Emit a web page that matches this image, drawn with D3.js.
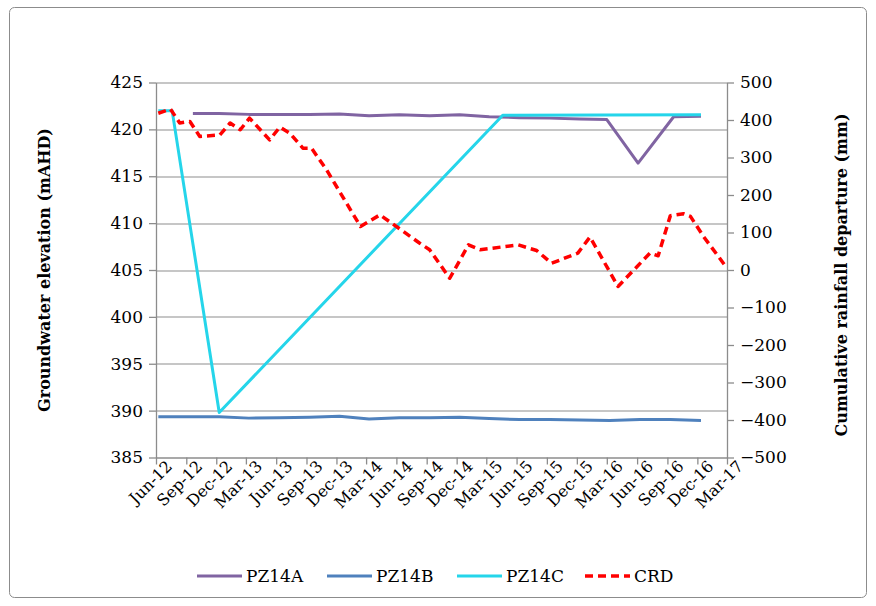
<!DOCTYPE html>
<html>
<head>
<meta charset="utf-8">
<script src="https://cdn.jsdelivr.net/npm/d3@7"></script>
<style>
  body { margin: 0; background: #fff; }
  svg { display: block; }
</style>
</head>
<body>
<div id="chart"></div>
<script>
// series: [date, value]
const pz14a = [
  ["2012-09-21", 421.7], ["2012-12-10", 421.7], ["2013-03-10", 421.6], ["2013-06-10", 421.6],
  ["2013-09-10", 421.6], ["2013-12-10", 421.65], ["2014-03-10", 421.45], ["2014-06-10", 421.55],
  ["2014-09-10", 421.45], ["2014-12-10", 421.55], ["2015-03-10", 421.35], ["2015-06-10", 421.25],
  ["2015-09-10", 421.2], ["2015-12-10", 421.1], ["2016-03-01", 421.05], ["2016-06-04", 416.4],
  ["2016-09-20", 421.35], ["2016-12-12", 421.4]
]
const pz14b = [
  ["2012-06-08", 389.35], ["2012-09-10", 389.35], ["2012-12-10", 389.35], ["2013-03-10", 389.2],
  ["2013-06-10", 389.25], ["2013-09-10", 389.3], ["2013-12-10", 389.4], ["2014-03-10", 389.1],
  ["2014-06-10", 389.25], ["2014-09-10", 389.25], ["2014-12-10", 389.3], ["2015-03-10", 389.15],
  ["2015-06-10", 389.05], ["2015-09-10", 389.05], ["2015-12-10", 389.0], ["2016-03-10", 388.95],
  ["2016-06-10", 389.05], ["2016-09-10", 389.05], ["2016-12-12", 388.95]
]
const pz14c = [
  ["2012-06-08", 422.0], ["2012-07-20", 422.0], ["2012-12-10", 389.8],
  ["2015-04-20", 421.5], ["2016-12-12", 421.55]
]
const crd = [
  ["2012-06-08", 418], ["2012-07-15", 429], ["2012-08-12", 392], ["2012-09-12", 396],
  ["2012-10-12", 356], ["2012-12-12", 360], ["2013-01-12", 392], ["2013-02-12", 374],
  ["2013-03-12", 405], ["2013-05-12", 347], ["2013-06-12", 381], ["2013-07-12", 365],
  ["2013-08-21", 325], ["2013-09-16", 325], ["2013-11-01", 267], ["2014-02-12", 116],
  ["2014-04-12", 147], ["2014-06-01", 116], ["2014-08-10", 72], ["2014-09-10", 54],
  ["2014-11-10", -22], ["2015-01-06", 67], ["2015-02-10", 54], ["2015-06-06", 67],
  ["2015-08-01", 52], ["2015-09-15", 18], ["2015-12-04", 45], ["2016-01-10", 88],
  ["2016-04-04", -44], ["2016-07-10", 45], ["2016-08-04", 38], ["2016-09-10", 145],
  ["2016-10-20", 150], ["2016-11-10", 143], ["2016-12-20", 89], ["2017-03-01", 5]
]

const leftTicks = [385, 390, 395, 400, 405, 410, 415, 420, 425]
const rightTicks = [-500, -400, -300, -200, -100, 0, 100, 200, 300, 400, 500]
const seriesNames = ["PZ14A", "PZ14B", "PZ14C", "CRD"]

const W = 876, H = 606
const margin = { top: 82.5, right: 149, bottom: 148.5, left: 156 }
const width = W - margin.left - margin.right
const height = H - margin.top - margin.bottom

const parse = d3.timeParse("%Y-%m-%d")
const start = parse("2012-06-01"), end = parse("2017-03-01")

const svg = d3.select("#chart").append("svg")
  .attr("width", W).attr("height", H)

// chart border
svg.append("rect")
  .attr("x", 9.5).attr("y", 7.5)
  .attr("width", 857).attr("height", 590)
  .attr("rx", 5)
  .attr("fill", "#fff").attr("stroke", "#8c8c8c").attr("stroke-width", 1)

const g = svg.append("g").attr("transform", "translate(" + margin.left + "," + margin.top + ")")

const x = d3.scaleTime().domain([start, end]).range([0, width])
const y = d3.scaleLinear().domain([385, 425]).range([height, 0])
const y2 = d3.scaleLinear().domain([-500, 500]).range([height, 0])

const font = "'DejaVu Serif', serif"

// GRIDLINES
g.append("g").selectAll("line").data(leftTicks.slice(1)).enter().append("line")
  .attr("x1", 0).attr("x2", width)
  .attr("y1", d => Math.round(y(d)) + 0.5).attr("y2", d => Math.round(y(d)) + 0.5)
  .attr("stroke", "#b3b3b3").attr("stroke-width", 1.3)

// AXES
const xTicks = d3.timeMonth.range(start, d3.timeDay.offset(end, 1), 3)
const xAxis = g.append("g")
  .attr("transform", "translate(0," + height + ")")
  .call(d3.axisBottom(x).tickValues(xTicks).tickFormat(d3.timeFormat("%b-%y")).tickSize(7).tickSizeOuter(0))
xAxis.selectAll("text")
  .attr("font-family", font).attr("font-size", 16).attr("fill", "#000")
  .style("text-anchor", "end")
  .attr("dx", "0.3em").attr("dy", "0.55em")
  .attr("transform", "rotate(-45)")

const yAxis = g.append("g")
  .call(d3.axisLeft(y).tickValues(leftTicks).tickSize(7).tickSizeOuter(0).tickPadding(6))
yAxis.selectAll("text").attr("font-family", font).attr("font-size", 17).attr("fill", "#000")

const y2Axis = g.append("g")
  .attr("transform", "translate(" + width + ",0)")
  .call(d3.axisRight(y2).tickValues(rightTicks).tickSize(7).tickSizeOuter(0).tickPadding(6))
y2Axis.selectAll("text").attr("font-family", font).attr("font-size", 17).attr("fill", "#000")

g.selectAll(".domain, .tick line").attr("stroke", "#8c8c8c").attr("stroke-width", 1.3)

// AXIS TITLES
g.append("text")
  .attr("transform", "rotate(-90)")
  .attr("x", -height / 2).attr("y", -106)
  .style("text-anchor", "middle")
  .attr("font-family", font).attr("font-weight", "bold").attr("font-size", 16)
  .text("Groundwater elevation  (mAHD)")

g.append("text")
  .attr("transform", "rotate(-90)")
  .attr("x", -height / 2 - 5).attr("y", width + 120)
  .style("text-anchor", "middle")
  .attr("font-family", font).attr("font-weight", "bold").attr("font-size", 16)
  .text("Cumulative rainfall departure (mm)")

// LINES
const colors = { PZ14A: "#8064a2", PZ14B: "#4f81bd", PZ14C: "#25d5ea", CRD: "#ff0000" }
const line = d3.line().x(d => x(parse(d[0]))).y(d => y(d[1]))
const line2 = d3.line().x(d => x(parse(d[0]))).y(d => y2(d[1]))

g.append("path").datum(pz14a).attr("d", line)
  .attr("fill", "none").attr("stroke", colors.PZ14A).attr("stroke-width", 3).attr("stroke-linejoin", "round")
g.append("path").datum(pz14b).attr("d", line)
  .attr("fill", "none").attr("stroke", colors.PZ14B).attr("stroke-width", 3).attr("stroke-linejoin", "round")
g.append("path").datum(pz14c).attr("d", line)
  .attr("fill", "none").attr("stroke", colors.PZ14C).attr("stroke-width", 3).attr("stroke-linejoin", "round")
g.append("path").datum(crd).attr("d", line2)
  .attr("fill", "none").attr("stroke", colors.CRD).attr("stroke-width", 3.5)
  .attr("stroke-dasharray", "8,5").attr("stroke-linejoin", "round")

// LEGEND
const legendX = [197, 327, 457, 585]
const legend = svg.append("g").attr("transform", "translate(0,576)")
seriesNames.forEach(function(name, i) {
  legend.append("line")
    .attr("x1", legendX[i]).attr("x2", legendX[i] + 45)
    .attr("y1", 0).attr("y2", 0)
    .attr("stroke", colors[name])
    .attr("stroke-width", name === "CRD" ? 3.5 : 3)
    .attr("stroke-dasharray", name === "CRD" ? "8,5" : null)
  legend.append("text")
    .attr("x", legendX[i] + 49).attr("y", 6)
    .attr("font-family", font).attr("font-size", 17)
    .text(name)
})
</script>
</body>
</html>
